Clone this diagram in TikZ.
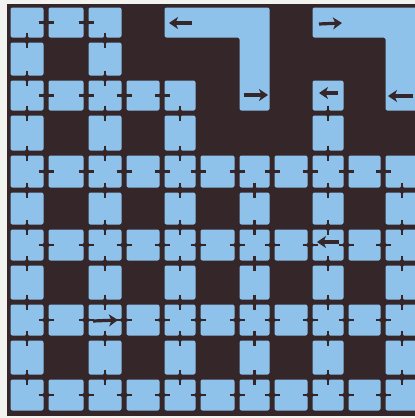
\documentclass[tikz,border=0pt]{standalone}
\usetikzlibrary{arrows.meta}
\definecolor{ink}{HTML}{352729}
\definecolor{cellblue}{HTML}{8FC2EA}
\definecolor{paper}{HTML}{F2F2EE}
\def\XS{{8,46,86,124,162,198,237,272,310,346,383,421}}
\def\YS{{5,40,78,113,153,190,227,263,302,338,377,413}}
\tikzset{
  cellfill/.style={fill=cellblue, rounded corners=2pt},
  tickline/.style={draw=ink, line width=2.2pt},
  tickdot/.style={fill=ink},
  handarrow/.style={draw=ink, line width=3.2pt,
    -{Stealth[length=9pt,width=12pt,inset=2.5pt]}},
}
\newcommand\lcell[2]{%
  \pgfmathsetmacro\xa{\XS[#2]+2.5}%
  \pgfmathsetmacro\xb{\XS[#2+1]-2.5}%
  \pgfmathsetmacro\ya{\YS[#1]+2.5}%
  \pgfmathsetmacro\yb{\YS[#1+1]-2.5}%
  \fill[cellfill] (\xa,\ya) rectangle (\xb,\yb);}
\newcommand\htick[2]{%
  \pgfmathsetmacro\tx{\XS[#2+1]}%
  \pgfmathsetmacro\ya{\YS[#1]}%
  \pgfmathsetmacro\yb{\YS[#1+1]}%
  \pgfmathsetmacro\ty{(\ya+\yb)/2}%
  \draw[tickline] (\tx-7.5,\ty) -- (\tx+7.5,\ty);
  \fill[tickdot] (\tx-5,\ty) -- (\tx,\ty-3.4) -- (\tx+5,\ty) -- (\tx,\ty+3.4) -- cycle;}
\newcommand\vtick[2]{%
  \pgfmathsetmacro\xa{\XS[#2]}%
  \pgfmathsetmacro\xb{\XS[#2+1]}%
  \pgfmathsetmacro\tx{(\xa+\xb)/2}%
  \pgfmathsetmacro\ty{\YS[#1+1]}%
  \draw[tickline] (\tx,\ty-7.5) -- (\tx,\ty+7.5);
  \fill[tickdot] (\tx,\ty-5) -- (\tx-3.4,\ty) -- (\tx,\ty+5) -- (\tx+3.4,\ty) -- cycle;}
\begin{document}
\begin{tikzpicture}[x=1pt,y=-1pt]
\useasboundingbox (0,0) rectangle (415,418);
\clip (0,0) rectangle (415,418);
\fill[paper] (0,0) rectangle (415,418);
\fill[ink] (7,4) rectangle (415,415.5);
% light cells
\foreach \c in {0,1,2} {\lcell{0}{\c}}
\foreach \c in {0,2} {\lcell{1}{\c}}
\foreach \c in {0,1,2,3,4,8} {\lcell{2}{\c}}
\foreach \c in {0,2,4,8} {\lcell{3}{\c}}
\foreach \r in {4,6,8,10} {\foreach \c in {0,...,10} {\lcell{\r}{\c}}}
\foreach \r in {5,7,9} {\foreach \c in {0,2,4,6,8,10} {\lcell{\r}{\c}}}
% merged shapes at the top
\fill[cellfill] (164.5,7.5) -- (269.5,7.5) -- (269.5,110.5) -- (239.5,110.5)
  -- (239.5,37.5) -- (164.5,37.5) -- cycle;
\fill[cellfill] (312.5,7.5) -- (425,7.5) -- (425,110.5) -- (385.5,110.5)
  -- (385.5,37.5) -- (312.5,37.5) -- cycle;
% horizontal-neighbour ticks
\foreach \c in {0,1} {\htick{0}{\c}}
\foreach \c in {0,1,2,3} {\htick{2}{\c}}
\foreach \r in {4,6,8,10} {\foreach \c in {0,...,9} {\htick{\r}{\c}}}
% vertical-neighbour ticks
\foreach \c in {0,2} {\vtick{0}{\c}}
\foreach \c in {0,2} {\vtick{1}{\c}}
\foreach \c in {0,2,4,8} {\vtick{2}{\c}}
\foreach \c in {0,2,4,8} {\vtick{3}{\c}}
\foreach \r in {4,...,9} {\foreach \c in {0,2,4,6,8,10} {\vtick{\r}{\c}}}
% hand-drawn arrows
\coordinate (a1s) at (192,23);  \coordinate (a1e) at (169,23);
\coordinate (a2s) at (319,24);  \coordinate (a2e) at (342,23);
\coordinate (a3s) at (244,95);  \coordinate (a3e) at (268,95);
\coordinate (a4s) at (338,93);  \coordinate (a4e) at (319,93);
\coordinate (a5s) at (413,96);  \coordinate (a5e) at (388,96);
\coordinate (a6s) at (339,242); \coordinate (a6e) at (317,242);
\coordinate (a7s) at (93,321);  \coordinate (a7e) at (118,320);
\foreach \k in {1,...,7} {\draw[handarrow] (a\k s) -- (a\k e);}
\end{tikzpicture}
\end{document}
